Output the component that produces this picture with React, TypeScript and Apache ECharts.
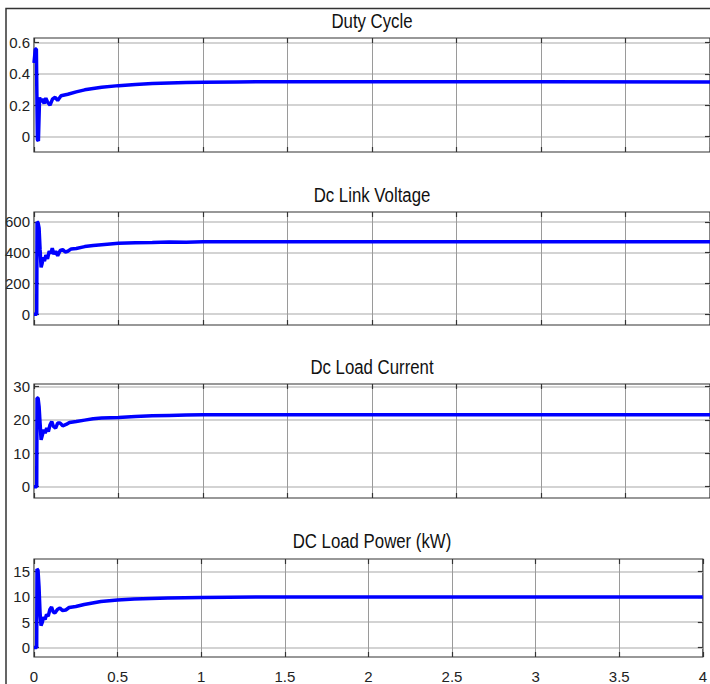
import React, { useEffect, useRef } from "react";
import * as echarts from "echarts";

const titles = ["Duty Cycle", "Dc Link Voltage", "Dc Load Current", "DC Load Power (kW)"];

const xMin = 0;
const xMax = 4;
const xInterval = 0.5;

const dutyCycle: [number, number][] = [
  [0, 0.47], [0.008, 0.56], [0.014, 0.56], [0.02, -0.02], [0.026, -0.03], [0.033, 0.25],
  [0.04, 0.22], [0.05, 0.24], [0.06, 0.21], [0.07, 0.245], [0.08, 0.22], [0.095, 0.2],
  [0.11, 0.24], [0.125, 0.25], [0.14, 0.23], [0.16, 0.26], [0.18, 0.265], [0.2, 0.27],
  [0.25, 0.285], [0.3, 0.298], [0.4, 0.315], [0.5, 0.325], [0.6, 0.333], [0.7, 0.338],
  [0.8, 0.342], [0.9, 0.345], [1.0, 0.347], [1.2, 0.349], [1.5, 0.35], [2.0, 0.35],
  [3.0, 0.35], [4.0, 0.348],
];

const dcLinkVoltage: [number, number][] = [
  [0, 0], [0.016, 0], [0.018, 600], [0.024, 595], [0.03, 560], [0.036, 420], [0.042, 305],
  [0.048, 330], [0.055, 370], [0.062, 345], [0.07, 385], [0.08, 360], [0.09, 410], [0.1, 395],
  [0.108, 430], [0.118, 390], [0.128, 410], [0.14, 380], [0.155, 415], [0.17, 420],
  [0.185, 405], [0.2, 410], [0.22, 425], [0.25, 428], [0.3, 440], [0.35, 447], [0.4, 452],
  [0.5, 461], [0.6, 465], [0.7, 467], [0.8, 470], [0.9, 469], [1.0, 471], [1.5, 472],
  [2, 472], [3, 472], [4, 472],
];

const dcLoadCurrent: [number, number][] = [
  [0, 0], [0.016, 0], [0.018, 26.5], [0.024, 26.5], [0.03, 24], [0.036, 19], [0.042, 14],
  [0.05, 15.5], [0.058, 17], [0.066, 16], [0.075, 17.5], [0.085, 16.5], [0.095, 18.5],
  [0.105, 19.5], [0.115, 18], [0.128, 17.5], [0.14, 19], [0.155, 19], [0.17, 18.2],
  [0.19, 18.6], [0.21, 19.2], [0.25, 19.5], [0.3, 19.9], [0.35, 20.3], [0.4, 20.5],
  [0.5, 20.7], [0.6, 21], [0.7, 21.2], [0.8, 21.3], [0.9, 21.4], [1.0, 21.5], [1.5, 21.5],
  [2, 21.5], [3, 21.5], [4, 21.5],
];

const dcLoadPower: [number, number][] = [
  [0, 0], [0.016, 0], [0.018, 15.5], [0.024, 15.3], [0.03, 12], [0.036, 7], [0.042, 4.3],
  [0.05, 5], [0.058, 6], [0.066, 5.5], [0.075, 6.5], [0.085, 6.2], [0.095, 7.5], [0.105, 8],
  [0.115, 7], [0.125, 6.8], [0.14, 7.5], [0.155, 7.8], [0.17, 7.3], [0.19, 7.4], [0.21, 7.9],
  [0.25, 8.1], [0.3, 8.5], [0.35, 8.8], [0.4, 9.1], [0.5, 9.4], [0.6, 9.6], [0.7, 9.7],
  [0.8, 9.8], [0.9, 9.85], [1.0, 9.9], [1.5, 10], [2, 10], [3, 10], [4, 10],
];

const yTicks: number[][] = [
  [0, 0.2, 0.4, 0.6],
  [0, 200, 400, 600],
  [0, 10, 20, 30],
  [0, 5, 10, 15],
];
const yMins = [-0.1, -70, -3.4, -1.9];
const yMaxs = [0.63, 665, 30.7, 17.5];

const seriesData = [dutyCycle, dcLinkVoltage, dcLoadCurrent, dcLoadPower];

// layout
const gridLeft = 34;
const gridWidth = 676;
const gridTops = [38, 212, 384, 559];
const gridHeights = [114, 113, 114, 98];
const titleYs = [21, 195, 367, 541];

const FONT = "'Liberation Sans', Arial, sans-serif";

export default function App() {
  const ref = useRef<HTMLDivElement>(null);
  useEffect(() => {
    if (!ref.current) return;
    const chart = echarts.init(ref.current, undefined, { renderer: "svg" });
    const grids: any[] = [];
    const xAxes: any[] = [];
    const yAxes: any[] = [];
    const series: any[] = [];
    const graphics: any[] = [];
    const tickStyle = { color: "#333", width: 1.2 };
    for (let i = 0; i < 4; i++) {
      grids.push({
        left: gridLeft,
        top: gridTops[i],
        width: gridWidth,
        height: gridHeights[i],
        show: true,
        borderColor: "#333",
        borderWidth: 1.2,
        backgroundColor: "#fff",
      });
      const last = i === 3;
      xAxes.push({
        type: "value",
        gridIndex: i,
        position: "bottom",
        min: xMin,
        max: xMax,
        interval: xInterval,
        axisLine: { show: false, onZero: false },
        axisTick: { show: true, inside: true, length: 5, lineStyle: tickStyle },
        axisLabel: {
          show: last,
          margin: 12,
          fontSize: 15,
          fontFamily: FONT,
          color: "#222",
          showMaxLabel: true,
          showMinLabel: true,
        },
        splitLine: { show: true, lineStyle: { color: "#9a9a9a", width: 1 } },
      });
      xAxes.push({
        type: "value",
        gridIndex: i,
        position: "top",
        min: xMin,
        max: xMax,
        interval: xInterval,
        axisLine: { show: false, onZero: false },
        axisTick: { show: true, inside: true, length: 5, lineStyle: tickStyle },
        axisLabel: { show: false },
        splitLine: { show: false },
      });
      yAxes.push({
        type: "value",
        gridIndex: i,
        position: "left",
        min: yMins[i],
        max: yMaxs[i],
        axisLine: { show: false, onZero: false },
        axisTick: {
          show: true,
          inside: true,
          length: 5,
          customValues: yTicks[i],
          lineStyle: tickStyle,
        },
        axisLabel: {
          show: true,
          margin: 4,
          fontSize: 15,
          fontFamily: FONT,
          color: "#222",
          customValues: yTicks[i],
        },
        splitLine: { show: true, lineStyle: { color: "#c4c4c4", width: 1.5 } },
      });
      yAxes.push({
        type: "value",
        gridIndex: i,
        position: "right",
        min: yMins[i],
        max: yMaxs[i],
        axisLine: { show: false, onZero: false },
        axisTick: {
          show: true,
          inside: true,
          length: 5,
          customValues: yTicks[i],
          lineStyle: tickStyle,
        },
        axisLabel: { show: false },
        splitLine: { show: false },
      });
      series.push({
        type: "line",
        name: titles[i],
        xAxisIndex: 2 * i,
        yAxisIndex: 2 * i,
        data: seriesData[i],
        showSymbol: false,
        symbol: "none",
        lineStyle: { color: "#0000ff", width: 3.5 },
        clip: true,
        z: 5,
      });
      graphics.push({
        type: "text",
        x: gridLeft + gridWidth / 2,
        y: titleYs[i],
        scaleX: 0.8,
        style: {
          text: titles[i],
          fontSize: 21,
          fontFamily: FONT,
          fill: "#111",
          textAlign: "center",
          textVerticalAlign: "middle",
        },
      });
    }
    graphics.push({
      type: "polyline",
      shape: { points: [[6, 684], [6, 8.5], [710, 8.5]] },
      style: { stroke: "#333", lineWidth: 1.5, fill: null },
      z: 10,
    });
    chart.setOption({
      animation: false,
      backgroundColor: "#fff",
      grid: grids,
      xAxis: xAxes,
      yAxis: yAxes,
      series,
      graphic: graphics,
    });
    return () => chart.dispose();
  }, []);
  return (
    <div
      ref={ref}
      style={{ position: "absolute", left: 0, top: 0, width: 710, height: 684 }}
    />
  );
}
